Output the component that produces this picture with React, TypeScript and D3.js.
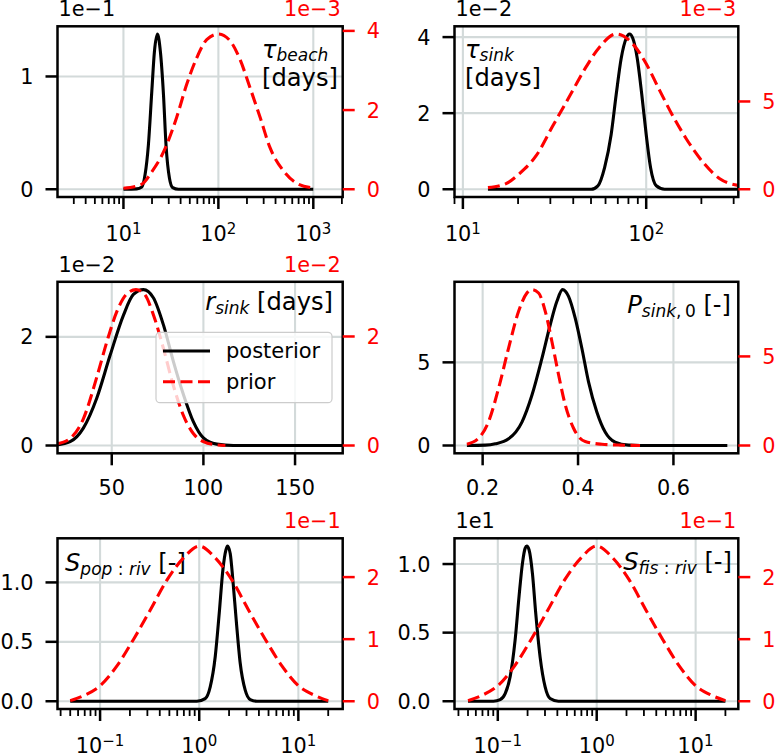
import React from "react";
import * as d3 from "d3";

type Pt = [number, number];

// ---------------- data ----------------
// Panel 1: tau_beach  (posterior ×1e-1, prior ×1e-3)
const tauBeachPosterior: Pt[] = [
  [10, 0], [13.8, 0.003], [15.6, 0.02], [16.9, 0.13], [18.3, 0.39], [19.9, 0.87],
  [21.2, 1.22], [22.8, 1.376], [24.5, 1.22], [26.4, 0.84], [28.1, 0.39], [30.5, 0.1],
  [33.0, 0.015], [37.9, 0], [1000, 0],
];
const tauBeachPrior: Pt[] = [
  [10, 0.025], [13.8, 0.08], [16.3, 0.16], [19.1, 0.38], [27.5, 1.03], [36.4, 1.82],
  [46.4, 2.65], [59.2, 3.32], [75.4, 3.78], [100, 3.92], [132.7, 3.75], [169, 3.28],
  [215, 2.57], [275, 1.82], [350, 1.05], [483, 0.47], [668, 0.15], [1000, 0.03],
];
// Panel 2: tau_sink (posterior ×1e-2, prior ×1e-3)
const tauSinkPosterior: Pt[] = [
  [13.7, 0], [50.1, 0], [54.5, 0.09], [59.3, 0.57], [64.4, 1.44], [68.6, 2.49],
  [73.1, 3.45], [77.8, 3.97], [81.1, 4.08], [84.5, 3.97], [89.3, 3.45], [94.6, 2.49],
  [100, 1.44], [105.6, 0.57], [113.5, 0.09], [126, 0], [320, 0],
];
const tauSinkPrior: Pt[] = [
  [13.7, 0.09], [17.2, 0.32], [20.3, 0.88], [25.1, 1.91], [30.9, 3.6], [38.1, 5.28],
  [47.0, 6.97], [55.6, 8.09], [68.5, 8.84], [84.5, 8.28], [100, 7.15], [118, 5.66],
  [140, 4.16], [166, 2.85], [204, 1.54], [252, 0.6], [317, 0.22],
];
// Panel 3: r_sink (posterior ×1e-2, prior ×1e-2)
const rSinkPosterior: Pt[] = [
  [20, 0.01], [27.3, 0.07], [34.5, 0.32], [41.8, 0.87], [49.1, 1.66], [56.4, 2.4],
  [61.8, 2.78], [67.3, 2.87], [72.7, 2.72], [78.2, 2.22], [83.6, 1.55], [89.1, 0.94],
  [94.5, 0.44], [100, 0.14], [107.3, 0.025], [116.4, 0], [180, 0],
];
const rSinkPrior: Pt[] = [
  [20, 0.03], [27.3, 0.13], [34.5, 0.49], [41.8, 1.25], [47.3, 1.9], [52.7, 2.45],
  [58.2, 2.78], [63.2, 2.86], [67.8, 2.78], [72.7, 2.4], [78.2, 1.78], [83.6, 1.1],
  [89.1, 0.55], [94.5, 0.22], [100, 0.07], [107.3, 0.01], [112, 0],
];
// Panel 4: P_sink,0
const pSinkPosterior: Pt[] = [
  [0.167, 0], [0.2056, 0.02], [0.2265, 0.1], [0.2544, 0.4], [0.2824, 1.41], [0.3033, 3.02],
  [0.3243, 5.24], [0.3417, 7.26], [0.3557, 8.67], [0.3675, 9.375], [0.3801, 8.97],
  [0.3941, 7.66], [0.408, 5.85], [0.422, 3.83], [0.4394, 2.02], [0.4569, 0.81],
  [0.4778, 0.2], [0.5058, 0.02], [0.53, 0], [0.713, 0],
];
const pSinkPrior: Pt[] = [
  [0.167, 0.07], [0.1916, 0.41], [0.2126, 1.35], [0.2335, 3.22], [0.2544, 5.47],
  [0.2754, 7.53], [0.2928, 8.56], [0.3033, 8.75], [0.3173, 8.56], [0.3313, 7.53],
  [0.3452, 5.84], [0.3592, 3.97], [0.3732, 2.28], [0.3906, 0.97], [0.415, 0.22],
  [0.45, 0.07], [0.49, 0.02], [0.53, 0],
];
// Panel 5: S_pop:riv (posterior ×1, prior ×1e-1)
const sPopPosterior: Pt[] = [
  [0.05, 0], [0.947, 0], [1.149, 0.022], [1.291, 0.121], [1.45, 0.374], [1.591, 0.739],
  [1.733, 1.107], [1.857, 1.272], [1.93, 1.306], [2.054, 1.244], [2.185, 1.02],
  [2.361, 0.683], [2.591, 0.32], [2.91, 0.093], [3.27, 0.014], [3.815, 0], [20, 0],
];
// Panels 5 and 6 share the same prior (×1e-1)
const sPrior: Pt[] = [
  [0.05, 0.01], [0.0682, 0.09], [0.1, 0.25], [0.148, 0.57], [0.218, 1.0], [0.321, 1.47],
  [0.472, 1.95], [0.695, 2.31], [1.0, 2.5], [1.45, 2.31], [2.14, 1.95], [3.14, 1.47],
  [4.63, 1.0], [6.82, 0.57], [10, 0.25], [14.8, 0.09], [20, 0.01],
];
// Panel 6: S_fis:riv (posterior ×1e1)
const sFisPosterior: Pt[] = [
  [0.05, 0], [0.0904, 0], [0.1057, 0.012], [0.1187, 0.056], [0.1333, 0.178],
  [0.1496, 0.445], [0.164, 0.764], [0.1775, 1.005], [0.1888, 1.114], [0.1964, 1.131],
  [0.2072, 1.102], [0.2239, 0.932], [0.2419, 0.64], [0.268, 0.32], [0.301, 0.105],
  [0.338, 0.02], [0.41, 0], [20, 0],
];

const posteriors = [tauBeachPosterior, tauSinkPosterior, rSinkPosterior, pSinkPosterior, sPopPosterior, sFisPosterior];
const priors = [tauBeachPrior, tauSinkPrior, rSinkPrior, pSinkPrior, sPrior, sPrior];

const xDomains: [number, number][] = [
  [2.02, 2040], [9.0, 318], [20.4, 176], [0.141, 0.736], [0.0372, 28], [0.0365, 27],
];
const xIsLog = [true, true, false, false, true, true];
const xMajorTicks = [[10, 100, 1000], [10, 100], [50, 100, 150], [0.2, 0.4, 0.6], [0.1, 1, 10], [0.1, 1, 10]];
const xTickLabels = [["", "", ""], ["", ""], ["50", "100", "150"], ["0.2", "0.4", "0.6"], ["", "", ""], ["", "", ""]];
const postTicks = [[0, 1], [0, 2, 4], [0, 2], [0, 5], [0, 0.5, 1], [0, 0.5, 1]];
const postTickLabels = [["0", "1"], ["0", "2", "4"], ["0", "2"], ["0", "5"], ["0.0", "0.5", "1.0"], ["0.0", "0.5", "1.0"]];
const priorTicks = [[0, 2, 4], [0, 5], [0, 2], [0, 5], [0, 1, 2], [0, 1, 2]];
const postOffsets = ["1e\u22121", "1e\u22122", "1e\u22122", "", "", "1e1"];
const priorOffsets = ["1e\u22123", "1e\u22123", "1e\u22122", "", "1e\u22121", "1e\u22121"];
const legendLabels = ["posterior", "prior"];

// ---------------- layout / style ----------------
const FONT = "DejaVu Sans, sans-serif";
const COLS: [number, number][] = [[57.5, 342.7], [454.5, 738.3]];
const ROWS: [number, number][] = [[26.3, 197], [281.8, 453.3], [538.3, 709]];
const RED = "#ff0000";
const GRID = "#d3dada";
const TICK_FS = 20.8;
const TITLE_FS = 24.2;
const SUB_FS = 17;
const LW = 3.1;
const DASH = "12,5.5";
const SPINE = 2.5;

function Title({ i }: { i: number }) {
  const common = { fontFamily: FONT, fontSize: TITLE_FS, fill: "#000", style: { whiteSpace: "pre" as const } };
  const sub = { fontSize: SUB_FS };
  switch (i) {
    case 0:
      return (
        <text {...common} x={262} y={58}>
          <tspan fontStyle="italic">τ</tspan>
          <tspan fontStyle="italic" {...sub} dy={3}>beach</tspan>
          <tspan x={262} y={86}>[days]</tspan>
        </text>
      );
    case 1:
      return (
        <text {...common} x={465} y={58}>
          <tspan fontStyle="italic">τ</tspan>
          <tspan fontStyle="italic" {...sub} dy={3}>sink</tspan>
          <tspan x={465} y={86}>[days]</tspan>
        </text>
      );
    case 2:
      return (
        <text {...common} x={333} y={310} textAnchor="end">
          <tspan fontStyle="italic">r</tspan>
          <tspan fontStyle="italic" {...sub} dy={4}>sink</tspan>
          <tspan dy={-4}> [days]</tspan>
        </text>
      );
    case 3:
      return (
        <text {...common} x={731} y={313} textAnchor="end">
          <tspan fontStyle="italic">P</tspan>
          <tspan fontStyle="italic" {...sub} dy={4}>sink</tspan>
          <tspan {...sub}>,{"\u2009"}0</tspan>
          <tspan dy={-4}> [-]</tspan>
        </text>
      );
    case 4:
      return (
        <text {...common} x={65} y={571}>
          <tspan fontStyle="italic">S</tspan>
          <tspan fontStyle="italic" {...sub} dy={4}>pop</tspan>
          <tspan {...sub}> : </tspan>
          <tspan fontStyle="italic" {...sub}>riv</tspan>
          <tspan dy={-4}> [-]</tspan>
        </text>
      );
    default:
      return (
        <text {...common} x={732} y={570} textAnchor="end">
          <tspan fontStyle="italic">S</tspan>
          <tspan fontStyle="italic" {...sub} dy={4}>fis</tspan>
          <tspan {...sub}> : </tspan>
          <tspan fontStyle="italic" {...sub}>riv</tspan>
          <tspan dy={-4}> [-]</tspan>
        </text>
      );
  }
}

function expLabel(v: number) {
  const e = Math.round(Math.log10(v));
  return e < 0 ? "\u2212" + String(-e) : String(e);
}

function Panel({ i }: { i: number }) {
  const [x0, x1] = COLS[i % 2];
  const [y0, y1] = ROWS[Math.floor(i / 2)];
  const post = posteriors[i];
  const prior = priors[i];
  const x: any = xIsLog[i]
    ? d3.scaleLog().domain(xDomains[i]).range([x0, x1])
    : d3.scaleLinear().domain(xDomains[i]).range([x0, x1]);
  const pMax = d3.max(post, (d) => d[1]) as number;
  const rMax = d3.max(prior, (d) => d[1]) as number;
  const yP = d3.scaleLinear().domain([-0.05 * pMax, 1.05 * pMax]).range([y1, y0]);
  const yR = d3.scaleLinear().domain([-0.05 * rMax, 1.05 * rMax]).range([y1, y0]);
  const linePost = d3.line<Pt>().x((d) => x(d[0])).y((d) => yP(d[1])).curve(d3.curveMonotoneX);
  const linePrior = d3.line<Pt>().x((d) => x(d[0])).y((d) => yR(d[1])).curve(d3.curveMonotoneX);

  const minor: number[] = [];
  if (xIsLog[i]) {
    const [lo, hi] = xDomains[i];
    for (let k = Math.floor(Math.log10(lo)); k <= Math.ceil(Math.log10(hi)); k++) {
      for (let m = 2; m <= 9; m++) {
        const v = m * Math.pow(10, k);
        if (v >= lo && v <= hi) minor.push(v);
      }
    }
  }
  const clipId = `clip-${i}`;
  const majors = xMajorTicks[i];

  return (
    <g>
      <defs>
        <clipPath id={clipId}>
          <rect x={x0} y={y0} width={x1 - x0} height={y1 - y0} />
        </clipPath>
      </defs>
      {/* grid */}
      {majors.map((v) => (
        <line key={"gx" + v} x1={x(v)} x2={x(v)} y1={y0} y2={y1} stroke={GRID} strokeWidth={2.1} />
      ))}
      {postTicks[i].map((v) => (
        <line key={"gy" + v} x1={x0} x2={x1} y1={yP(v)} y2={yP(v)} stroke={GRID} strokeWidth={2.1} />
      ))}
      {/* posterior */}
      <path d={linePost(post) || ""} fill="none" stroke="#000" strokeWidth={LW} clipPath={`url(#${clipId})`} strokeLinejoin="round" />
      <Title i={i} />
      {/* prior (twin axis) */}
      <path d={linePrior(prior) || ""} fill="none" stroke={RED} strokeWidth={LW} strokeDasharray={DASH} clipPath={`url(#${clipId})`} />
      {/* frame */}
      <rect x={x0} y={y0} width={x1 - x0} height={y1 - y0} fill="none" stroke="#000" strokeWidth={SPINE} />
      {/* left y ticks */}
      {postTicks[i].map((v, k) => (
        <g key={"yt" + v}>
          <line x1={x0 - 12} x2={x0} y1={yP(v)} y2={yP(v)} stroke="#000" strokeWidth={SPINE} />
          <text x={x0 - 24} y={yP(v) + 7.5} textAnchor="end" fontFamily={FONT} fontSize={TICK_FS} fill="#000">
            {postTickLabels[i][k]}
          </text>
        </g>
      ))}
      {/* right y ticks */}
      {priorTicks[i].map((v) => (
        <g key={"rt" + v}>
          <line x1={x1} x2={x1 + 12} y1={yR(v)} y2={yR(v)} stroke={RED} strokeWidth={SPINE} />
          <text x={x1 + 24} y={yR(v) + 7.5} textAnchor="start" fontFamily={FONT} fontSize={TICK_FS} fill={RED}>
            {String(v)}
          </text>
        </g>
      ))}
      {/* x ticks */}
      {minor.map((v) => (
        <line key={"mx" + v} x1={x(v)} x2={x(v)} y1={y1} y2={y1 + 7} stroke="#000" strokeWidth={1.8} />
      ))}
      {majors.map((v, k) => (
        <g key={"xt" + v}>
          <line x1={x(v)} x2={x(v)} y1={y1} y2={y1 + 12} stroke="#000" strokeWidth={SPINE} />
          {xIsLog[i] ? (
            <text x={x(v)} y={y1 + 44} textAnchor="middle" fontFamily={FONT} fontSize={TICK_FS} fill="#000">
              <tspan>10</tspan>
              <tspan fontSize={15} dy={-7}>{expLabel(v)}</tspan>
            </text>
          ) : (
            <text x={x(v)} y={y1 + 42} textAnchor="middle" fontFamily={FONT} fontSize={TICK_FS} fill="#000">
              {xTickLabels[i][k]}
            </text>
          )}
        </g>
      ))}
      {/* offset texts */}
      {postOffsets[i] && (
        <text x={x0 + 1} y={y0 - 10} fontFamily={FONT} fontSize={TICK_FS} fill="#000">
          {postOffsets[i]}
        </text>
      )}
      {priorOffsets[i] && (
        <text x={x1 - 2} y={y0 - 10} textAnchor="end" fontFamily={FONT} fontSize={TICK_FS} fill={RED}>
          {priorOffsets[i]}
        </text>
      )}
      {i === 2 && (
        <g>
          <rect x={156} y={332.3} width={176} height={70.4} rx={4} fill="#ffffff" fillOpacity={0.8} stroke="#cccccc" strokeWidth={1.2} />
          <line x1={163} x2={210} y1={351} y2={351} stroke="#000" strokeWidth={LW} />
          <text x={226} y={357.5} fontFamily={FONT} fontSize={21} fill="#000">{legendLabels[0]}</text>
          <line x1={163} x2={210} y1={381.7} y2={381.7} stroke={RED} strokeWidth={LW} strokeDasharray={DASH} />
          <text x={226} y={388.5} fontFamily={FONT} fontSize={21} fill="#000">{legendLabels[1]}</text>
        </g>
      )}
    </g>
  );
}

export default function App() {
  return (
    <svg
      width={776}
      height={753}
      viewBox="0 0 776 753"
      style={{ position: "absolute", left: 0, top: 0, background: "#ffffff" }}
    >
      <rect x={0} y={0} width={776} height={753} fill="#ffffff" />
      {[0, 1, 2, 3, 4, 5].map((i) => (
        <Panel key={i} i={i} />
      ))}
    </svg>
  );
}
